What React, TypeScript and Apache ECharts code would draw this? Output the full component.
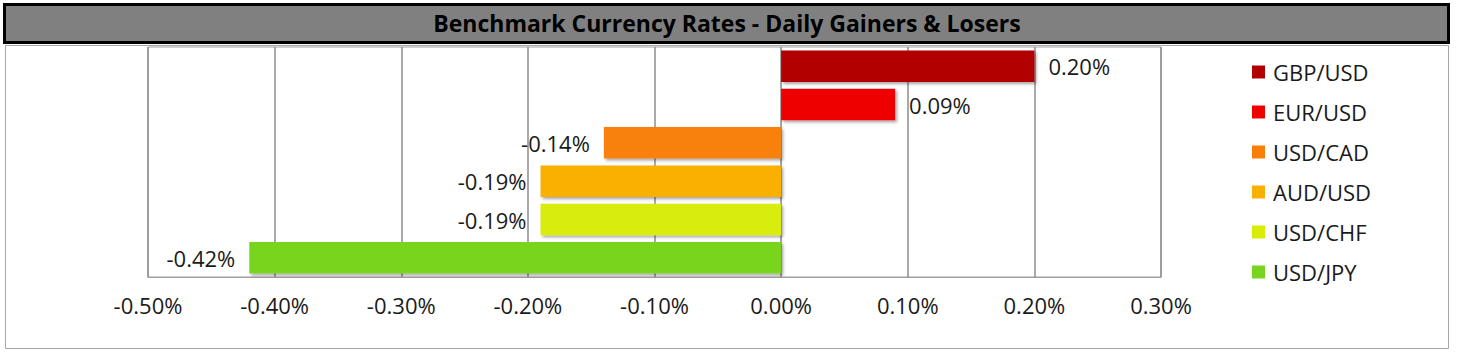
import React, { useEffect, useRef } from "react";
import * as echarts from "echarts";

const categories = ["GBP/USD", "EUR/USD", "USD/CAD", "AUD/USD", "USD/CHF", "USD/JPY"];
const values = [0.2, 0.09, -0.14, -0.19, -0.19, -0.42];
const colors = ["#B20000", "#EE0000", "#F88008", "#FAB000", "#D8EC08", "#78D41E"];
const xTicks = { min: -0.5, max: 0.3, interval: 0.1 };
const titleText = "Benchmark Currency Rates - Daily Gainers & Losers";

const FONT = "'Open Sans', sans-serif";

export default function App() {
  const ref = useRef<HTMLDivElement>(null);
  useEffect(() => {
    document.body.style.margin = "0";
    const chart = echarts.init(ref.current!, undefined, { renderer: "svg" });
    const series = categories.map((name, i) => ({
      name,
      type: "bar",
      stack: "all",
      barCategoryGap: "18%",
      itemStyle: {
        color: colors[i],
        shadowColor: "rgba(0,0,0,0.35)",
        shadowBlur: 3,
        shadowOffsetX: 2,
        shadowOffsetY: 2,
      },
      label: {
        show: true,
        position: values[i] < 0 ? "left" : "right",
        distance: 14,
        formatter: (p: any) => (p.value == null ? "" : p.value.toFixed(2) + "%"),
        fontFamily: FONT,
        fontSize: 22,
        color: "#1a1a1a",
      },
      data: categories.map((_, j) => (j === i ? values[i] : null)),
    }));
    chart.setOption({
      animation: false,
      textStyle: { fontFamily: FONT },
      graphic: [
        {
          type: "rect",
          shape: { x: 5.5, y: 45.5, width: 1443, height: 303 },
          style: { fill: "none", stroke: "#a6a6a6", lineWidth: 1 },
          z: -10,
        },
        {
          type: "rect",
          shape: { x: 4.5, y: 4.5, width: 1444, height: 38 },
          style: { fill: "#808080", stroke: "#000", lineWidth: 3 },
        },
        {
          type: "text",
          x: 727,
          y: 23,
          style: {
            text: titleText,
            fontFamily: FONT,
            fontWeight: "bold",
            fontSize: 23,
            fill: "#000",
            align: "center",
            verticalAlign: "middle",
          },
        },
      ],
      grid: {
        left: 148,
        right: 296,
        top: 47,
        bottom: 80,
        show: true,
        borderColor: "#a0a0a0",
        borderWidth: 1,
      },
      legend: {
        orient: "vertical",
        left: 1252,
        top: 61,
        padding: 0,
        icon: "rect",
        itemWidth: 13,
        itemHeight: 13,
        itemGap: 18,
        data: categories,
        textStyle: { fontFamily: FONT, fontSize: 22, color: "#1a1a1a", lineHeight: 22, padding: [0, 0, 0, 3] },
      },
      xAxis: {
        type: "value",
        min: xTicks.min,
        max: xTicks.max,
        interval: xTicks.interval,
        axisLine: { show: true, lineStyle: { color: "#a0a0a0" } },
        axisTick: { show: false },
        splitLine: { show: true, lineStyle: { color: "#8c8c8c", width: 1.5 } },
        axisLabel: {
          margin: 17,
          fontFamily: FONT,
          fontSize: 22,
          color: "#1a1a1a",
          formatter: (v: number) => v.toFixed(2) + "%",
        },
      },
      yAxis: {
        type: "category",
        inverse: true,
        data: categories,
        axisLine: { show: true, lineStyle: { color: "#a0a0a0" } },
        axisTick: { show: false },
        axisLabel: { show: false },
        splitLine: { show: false },
      },
      series,
    });
    return () => chart.dispose();
  }, []);
  return (
    <div
      ref={ref}
      style={{ position: "fixed", left: 0, top: 0, width: 1457, height: 357, background: "#fff" }}
    />
  );
}
